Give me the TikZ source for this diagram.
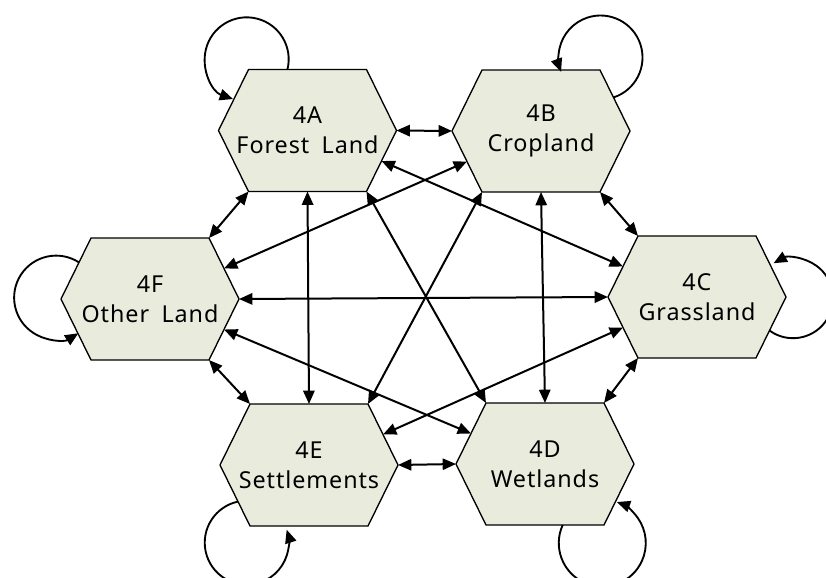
\documentclass[tikz,border=0pt]{standalone}
\usepackage{fontspec}
\setmainfont{Noto Sans}[LetterSpace=4]
\usetikzlibrary{arrows.meta, calc}
\definecolor{verdino}{RGB}{233,236,221}
\tikzset{
  bordo/.style={fill=verdino, draw=black, line width=1pt},
  etichetta/.style={align=center, font=\fontsize{17.5}{22.5}\selectfont, inner sep=0pt},
  freccia/.style={{Triangle[length=10pt,width=8.5pt]}-{Triangle[length=10pt,width=8.5pt]}, line width=1.5pt},
  anello/.style={-{Triangle[length=10pt,width=8.5pt]}, line width=1.4pt}
}
% esagono: #1 nome, #2 centro, #3 testo
\newcommand{\esagono}[3]{
  \coordinate (#1-c) at (#2);
  \coordinate (#1-w) at ($(#1-c)+(-\semilarg,0)$);
  \coordinate (#1-e) at ($(#1-c)+(\semilarg,0)$);
  \coordinate (#1-nw) at ($(#1-c)+(-\semilato,-\semialt)$);
  \coordinate (#1-ne) at ($(#1-c)+(\semilato,-\semialt)$);
  \coordinate (#1-sw) at ($(#1-c)+(-\semilato,\semialt)$);
  \coordinate (#1-se) at ($(#1-c)+(\semilato,\semialt)$);
  \coordinate (#1-n) at ($(#1-c)+(0,-\semialt)$);
  \coordinate (#1-s) at ($(#1-c)+(0,\semialt)$);
  % punti medi dei lati obliqui
  \coordinate (#1-mnw) at ($(#1-w)!0.5!(#1-nw)$);
  \coordinate (#1-mne) at ($(#1-e)!0.5!(#1-ne)$);
  \coordinate (#1-msw) at ($(#1-w)!0.5!(#1-sw)$);
  \coordinate (#1-mse) at ($(#1-e)!0.5!(#1-se)$);
  \filldraw[bordo] (#1-w) -- (#1-nw) -- (#1-ne) -- (#1-e) -- (#1-se) -- (#1-sw) -- cycle;
  \node[etichetta] (#1) at (#1-c) {#3};
}

\begin{document}
\begin{tikzpicture}[x=0.75pt, y=-0.75pt]
    % parametri
    \pgfmathsetmacro{\semilarg}{89}
    \pgfmathsetmacro{\semilato}{59}
    \pgfmathsetmacro{\semialt}{61}
    \useasboundingbox (0,0) rectangle (826,578);
    % esagoni
    \esagono{forest}{307.5,130.5}{4A\\Forest\hspace{4pt} Land}
    \esagono{crop}{541,131}{4B\\Cropland}
    \esagono{grass}{697,297}{4C\\Grassland}
    \esagono{wet}{545,464}{4D\\Wetlands}
    \esagono{settle}{309,465}{4E\\Settlements}
    \esagono{other}{150,299}{4F\\Other\hspace{4pt} Land}
    % frecce tra gli esagoni
    \draw[freccia] (forest-e) -- (crop-w);
    \draw[freccia] (forest-sw) -- (other-ne);
    \draw[freccia] (forest-s) -- (settle-n);
    \draw[freccia] (forest-se) -- (wet-nw);
    \draw[freccia] (forest-mse) -- (grass-mnw);
    \draw[freccia] (crop-msw) -- (other-mne);
    \draw[freccia] (crop-sw) -- (settle-ne);
    \draw[freccia] (crop-s) -- (wet-n);
    \draw[freccia] (crop-se) -- (grass-nw);
    \draw[freccia] (other-e) -- (grass-w);
    \draw[freccia] (other-mse) -- (wet-mnw);
    \draw[freccia] (other-se) -- (settle-nw);
    \draw[freccia] (settle-mne) -- (grass-msw);
    \draw[freccia] (settle-e) -- (wet-w);
    \draw[freccia] (wet-ne) -- (grass-sw);
    % anelli
    \coordinate (forest-l) at ($(forest-nw)!0.33!(forest-ne)$);
    \coordinate (crop-l) at ($(crop-ne)!0.45!(crop-e)$);
    \coordinate (grass-l) at ($(grass-e)!0.55!(grass-se)$);
    \coordinate (wet-l) at ($(wet-sw)!0.65!(wet-se)$);
    \coordinate (settle-l) at ($(settle-w)!0.6!(settle-sw)$);
    \coordinate (other-l) at ($(other-w)!0.6!(other-nw)$);
    \draw[anello] (forest-l) arc[start angle=14, end angle=-251, radius=42];
    \draw[anello] (crop-l) arc[start angle=72, end angle=-200, radius=42];
    \draw[anello] (grass-l) arc[start angle=126, end angle=-119, radius=40];
    \draw[anello] (wet-l) arc[start angle=-155.5, end angle=-430.5, radius=43.5];
    \draw[anello] (settle-l) arc[start angle=-102, end angle=-378, radius=42];
    \draw[anello] (other-l) arc[start angle=-57, end angle=-302, radius=42];
\end{tikzpicture}
\end{document}
